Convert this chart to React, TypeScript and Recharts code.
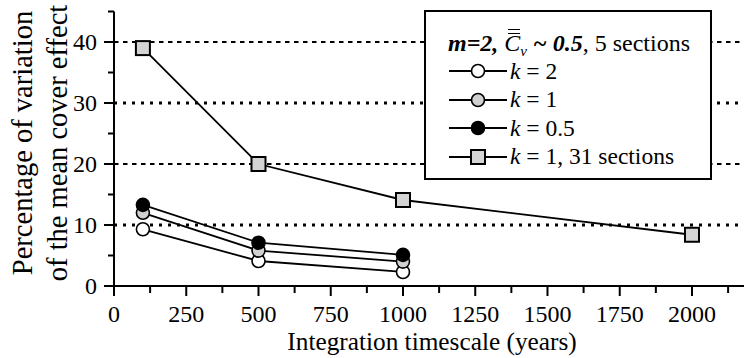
import React from "react";
import { LineChart, Line, XAxis, YAxis, ReferenceLine, Legend } from "recharts";

// Integration timescale (years) for the 5-section runs
const years5 = [100, 500, 1000];
// Percentage of variation of the mean cover effect, 5 sections
const k2Values = [9.3, 4.1, 2.3];
const k1Values = [12.0, 5.8, 4.0];
const k05Values = [13.3, 7.1, 5.1];
// The 31-section run with k = 1
const years31 = [100, 500, 1000, 2000];
const k1Sections31 = [39.0, 20.0, 14.1, 8.4];

const xTicks = [0, 125, 250, 375, 500, 625, 750, 875, 1000, 1125, 1250, 1375, 1500, 1625, 1750, 1875, 2000, 2125];
const yTicks = [0, 5, 10, 15, 20, 25, 30, 35, 40, 45];
const gridLevels = [10, 20, 30, 40];

const FONT = "Liberation Serif, DejaVu Serif, serif";
const FS = 24;

const toRows = (xs: number[], ys: number[]) => xs.map((x, i) => ({ x, v: ys[i] }));

const dataK2 = toRows(years5, k2Values);
const dataK1 = toRows(years5, k1Values);
const dataK05 = toRows(years5, k05Values);
const data31 = toRows(years31, k1Sections31);

const XTick = (props: any) => {
  const { x, y, payload } = props;
  const major = payload.value % 250 === 0;
  return (
    <g>
      <line x1={x} x2={x} y1={payload.value === 0 ? y - 3 : y} y2={y + (major ? 10 : 7)} stroke="#000" strokeWidth={2} />
      {major && (
        <text x={x} y={y + 36} textAnchor="middle" fontFamily={FONT} fontSize={FS} fill="#000">
          {payload.value}
        </text>
      )}
    </g>
  );
};

const YTick = (props: any) => {
  const { x, y, payload } = props;
  const major = payload.value % 10 === 0;
  return (
    <g>
      <line x1={x - (major ? 10 : 6)} x2={x + (major ? 3 : 0)} y1={y} y2={y} stroke="#000" strokeWidth={2} />
      {major && (
        <text x={x - 17} y={y + 8} textAnchor="end" fontFamily={FONT} fontSize={FS} fill="#000">
          {payload.value}
        </text>
      )}
    </g>
  );
};

const YLabel = () => (
  <g fontFamily={FONT} fontSize={28.5} fill="#000">
    <text transform="translate(32, 143) rotate(-90)" textAnchor="middle">
      Percentage of variation
    </text>
    <text transform="translate(67, 143) rotate(-90)" textAnchor="middle">
      of the mean cover effect
    </text>
  </g>
);

const XLabel = (props: any) => {
  const vb = props.viewBox || {};
  const cx = (vb.x ?? 0) + (vb.width ?? 0) / 2;
  return (
    <text x={cx + 3} y={350} textAnchor="middle" fontFamily={FONT} fontSize={25.3} fill="#000">
      Integration timescale (years)
    </text>
  );
};

const SquareDot = (props: any) => {
  const { cx, cy, index } = props;
  return (
    <g key={`sq-${index}`}>
      <rect x={cx - 7} y={cy - 7} width={14} height={14} fill="#d4d4d4" stroke="#000" strokeWidth={2} />
    </g>
  );
};

type Item = { label: React.ReactNode; fill: string; square?: boolean };

const legendItems: Item[] = [
  { label: <><i>k</i> = 2</>, fill: "#fff" },
  { label: <><i>k</i> = 1</>, fill: "#d0d0d0" },
  { label: <><i>k</i> = 0.5</>, fill: "#000" },
  { label: <><i>k</i> = 1, 31 sections</>, fill: "#d4d4d4", square: true },
];

const LegendMarker = ({ fill, square }: { fill: string; square?: boolean }) => (
  <svg width={58} height={20} style={{ display: "block" }}>
    <line x1={0} x2={58} y1={10} y2={10} stroke="#000" strokeWidth={1.8} />
    {square ? (
      <rect x={22} y={3} width={14} height={14} fill={fill} stroke="#000" strokeWidth={2} />
    ) : (
      <circle cx={29} cy={10} r={6.5} fill={fill} stroke="#000" strokeWidth={1.6} />
    )}
  </svg>
);

const LegendBox = () => (
  <div
    style={{
      width: 284,
      height: 166,
      border: "2px solid #000",
      background: "#fff",
      boxSizing: "content-box",
      fontFamily: FONT,
      fontSize: 23.5,
      color: "#000",
      position: "relative",
    }}
  >
    <div style={{ position: "absolute", top: 17, left: 22, height: 28, lineHeight: "28px", whiteSpace: "nowrap", fontSize: 24 }}>
      <b><i>m=2, </i></b>
      <span style={{ position: "relative", display: "inline-block" }}>
        <i>C</i>
        <span style={{ position: "absolute", left: 4, top: 0, width: 12, height: 3, borderTop: "1.5px solid #000", borderBottom: "1.5px solid #000" }} />
      </span>
      <i style={{ fontSize: 15, position: "relative", top: 5 }}>v</i>
      <b><i> ~ 0.5</i></b>, 5 sections
    </div>
    {legendItems.map((it, i) => (
      <div
        key={i}
        style={{
          position: "absolute",
          left: 23,
          top: 45 + i * 28.5,
          height: 28.5,
          display: "flex",
          alignItems: "center",
          whiteSpace: "nowrap",
        }}
      >
        <LegendMarker fill={it.fill} square={it.square} />
        <span style={{ marginLeft: 3 }}>{it.label}</span>
      </div>
    ))}
  </div>
);

export default function App() {
  return (
    <div style={{ position: "absolute", left: 0, top: 0, width: 744, height: 358, background: "#fff" }}>
      <LineChart width={744} height={358} margin={{ top: 11.5, right: 0, bottom: 0, left: 0 }}>
        <XAxis
          dataKey="x"
          type="number"
          domain={[0, 2180]}
          ticks={xTicks}
          interval={0}
          height={72}
          tickSize={0}
          tickMargin={0}
          tickLine={false}
          tick={<XTick />}
          axisLine={{ stroke: "#000", strokeWidth: 2 }}
          label={{ content: <XLabel /> } as any}
        />
        <YAxis
          type="number"
          domain={[0, 45]}
          ticks={yTicks}
          interval={0}
          width={114}
          tickSize={0}
          tickMargin={0}
          tickLine={false}
          tick={<YTick />}
          axisLine={{ stroke: "#000", strokeWidth: 2 }}
          label={{ content: <YLabel /> } as any}
        />
        {gridLevels.map((g) => (
          <ReferenceLine
            key={g}
            y={g}
            stroke="#000"
            strokeWidth={g % 20 === 0 ? 2.2 : 3}
            strokeDasharray={g % 20 === 0 ? "4.5 4.5" : "3 6"}
          />
        ))}
        <Legend
          layout="horizontal"
          verticalAlign="middle"
          align="center"
          content={() => <LegendBox />}
          wrapperStyle={{ position: "absolute", left: 424, top: 10, width: 288, height: 170 }}
        />
        <Line
          data={data31}
          dataKey="v"
          stroke="#000"
          strokeWidth={1.8}
          dot={(p: any) => <SquareDot key={`s${p.index}`} {...p} />}
          isAnimationActive={false}
          legendType="none"
        />
        <Line
          data={dataK2}
          dataKey="v"
          stroke="#000"
          strokeWidth={1.8}
          dot={{ r: 6.5, fill: "#fff", stroke: "#000", strokeWidth: 1.6 }}
          isAnimationActive={false}
        />
        <Line
          data={dataK1}
          dataKey="v"
          stroke="#000"
          strokeWidth={1.8}
          dot={{ r: 6.5, fill: "#d0d0d0", stroke: "#000", strokeWidth: 1.6 }}
          isAnimationActive={false}
        />
        <Line
          data={dataK05}
          dataKey="v"
          stroke="#000"
          strokeWidth={1.8}
          dot={{ r: 6.5, fill: "#000", stroke: "#000", strokeWidth: 1.6 }}
          isAnimationActive={false}
        />
      </LineChart>
    </div>
  );
}
